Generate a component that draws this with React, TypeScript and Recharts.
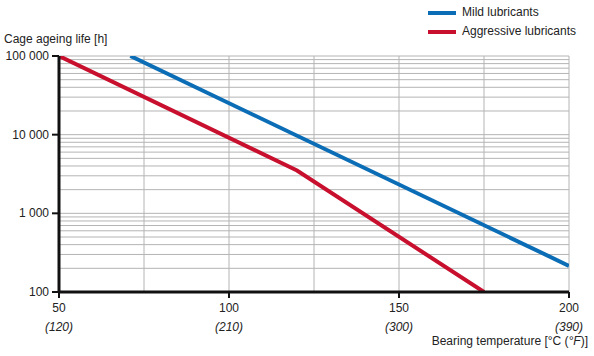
import React from "react";
import { LineChart, Line, XAxis, YAxis, CartesianGrid, Legend } from "recharts";

const mildTemp = [71, 200];
const mildLife = [100000, 215];
const aggrTemp = [50, 120, 175];
const aggrLife = [100000, 3500, 100];

const xTicks = [50, 75, 100, 125, 150, 175, 200];
const xLabeled = [50, 100, 150, 200];
const xFahrenheit: Record<number, string> = { 50: "(120)", 100: "(210)", 150: "(300)", 200: "(390)" };
const yTicks = [
  100, 200, 300, 400, 500, 600, 700, 800, 900,
  1000, 2000, 3000, 4000, 5000, 6000, 7000, 8000, 9000,
  10000, 20000, 30000, 40000, 50000, 60000, 70000, 80000, 90000,
  100000,
];
const yLabels: Record<number, string> = { 100: "100", 1000: "1 000", 10000: "10 000", 100000: "100 000" };

const seriesNames = ["Mild lubricants", "Aggressive lubricants"];
const BLUE = "#0b6db6";
const RED = "#c8102e";
const FONT = "'Liberation Sans', Arial, sans-serif";

const mildData = mildTemp.map((t, i) => ({ t, v: mildLife[i] }));
const aggrData = aggrTemp.map((t, i) => ({ t, v: aggrLife[i] }));

const YTick = (props: any) => {
  const { x, y, payload } = props;
  const label = yLabels[payload.value];
  if (!label) return null;
  return (
    <g>
      <line x1={x - 7} x2={x} y1={y} y2={y} stroke="#111" strokeWidth={2} />
      <text x={x - 10} y={y + 4} textAnchor="end" fontSize={12} fontFamily={FONT} fill="#222">
        {label}
      </text>
    </g>
  );
};

const XTick = (props: any) => {
  const { x, y, payload } = props;
  if (!xLabeled.includes(payload.value)) return null;
  return (
    <g>
      <line x1={x} x2={x} y1={y} y2={y + 6} stroke="#111" strokeWidth={2} />
      <text x={x} y={y + 20} textAnchor="middle" fontSize={12} fontFamily={FONT} fill="#222">
        {payload.value}
      </text>
      <text x={x} y={y + 39} textAnchor="middle" fontSize={12} fontStyle="italic" fontFamily={FONT} fill="#222">
        {xFahrenheit[payload.value]}
      </text>
    </g>
  );
};

const LegendContent = () => (
  <div style={{ position: "relative", width: 594, height: 0, overflow: "visible", fontFamily: FONT, fontSize: 12, color: "#222" }}>
    <div style={{ position: "absolute", left: 428, top: 11, width: 28, height: 4, background: BLUE }} />
    <div style={{ position: "absolute", left: 462, top: 5, lineHeight: "14px", whiteSpace: "nowrap" }}>{seriesNames[0]}</div>
    <div style={{ position: "absolute", left: 428, top: 30, width: 28, height: 4, background: RED }} />
    <div style={{ position: "absolute", left: 462, top: 24, lineHeight: "14px", whiteSpace: "nowrap" }}>{seriesNames[1]}</div>
  </div>
);

export default function App() {
  return (
    <div style={{ position: "absolute", left: 0, top: 0, width: 594, height: 356, background: "#fff" }}>
      <LineChart width={594} height={356} margin={{ top: 56, right: 25, bottom: 0, left: 0 }}>
        <CartesianGrid stroke="#b4b4b4" strokeWidth={1} />
        <XAxis
          type="number"
          dataKey="t"
          domain={[50, 200]}
          ticks={xTicks}
          allowDataOverflow
          height={64}
          tickSize={0}
          tickMargin={0}
          tickLine={false}
          axisLine={{ stroke: "#111", strokeWidth: 3 }}
          tick={<XTick />}
          interval={0}
          label={(p: any) => (
            <text x={588} y={345} textAnchor="end" fontSize={12} fontFamily={FONT} fill="#222">
              Bearing temperature [°C (<tspan fontStyle="italic">°F</tspan>)]
            </text>
          )}
        />
        <YAxis
          type="number"
          scale="log"
          dataKey="v"
          domain={[100, 100000]}
          ticks={yTicks}
          allowDataOverflow
          width={59}
          tickSize={0}
          tickMargin={0}
          tickLine={false}
          axisLine={{ stroke: "#111", strokeWidth: 3 }}
          tick={<YTick />}
          interval={0}
          label={(p: any) => (
            <text x={4} y={43} textAnchor="start" fontSize={12} fontFamily={FONT} fill="#222">
              Cage ageing life [h]
            </text>
          )}
        />
        <Legend verticalAlign="top" wrapperStyle={{ position: "absolute", left: 0, top: 0, width: 594, height: 0 }} content={<LegendContent />} />
        <Line data={mildData} dataKey="v" name={seriesNames[0]} stroke={BLUE} strokeWidth={4} dot={false} isAnimationActive={false} />
        <Line data={aggrData} dataKey="v" name={seriesNames[1]} stroke={RED} strokeWidth={4} dot={false} isAnimationActive={false} />
      </LineChart>
    </div>
  );
}
